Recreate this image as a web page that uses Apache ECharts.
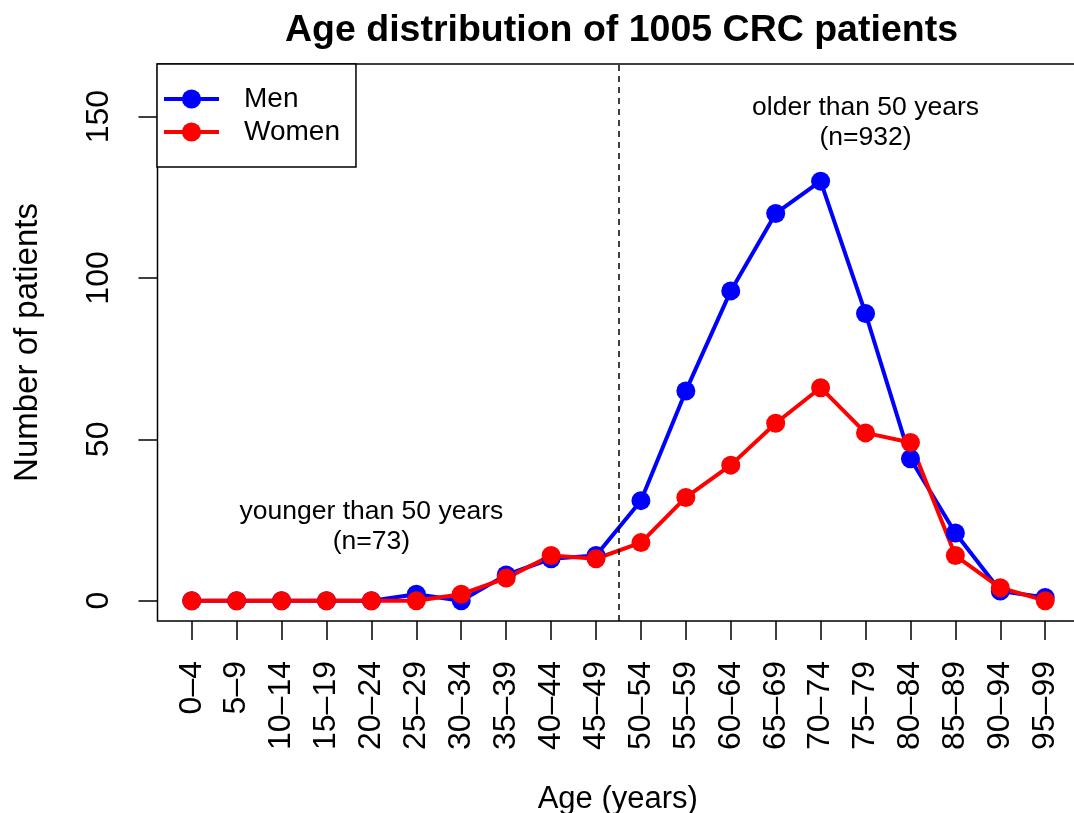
<!DOCTYPE html>
<html>
<head>
<meta charset="utf-8">
<script src="https://cdn.jsdelivr.net/npm/echarts@6/dist/echarts.min.js"></script>
<style>
  html, body { margin: 0; padding: 0; background: #fff; }
  #chart { width: 1074px; height: 813px; }
</style>
</head>
<body>
<div id="chart"></div>
<script>
var ageGroups = ['0–4', '5–9', '10–14', '15–19', '20–24', '25–29', '30–34', '35–39', '40–44', '45–49',
  '50–54', '55–59', '60–64', '65–69', '70–74', '75–79', '80–84', '85–89', '90–94', '95–99']
var men = [0, 0, 0, 0, 0, 2, 0, 8, 13, 14, 31, 65, 96, 120, 130, 89, 44, 21, 3, 1]
var women = [0, 0, 0, 0, 0, 0, 2, 7, 14, 13, 18, 32, 42, 55, 66, 52, 49, 14, 4, 0]
var yTicks = [0, 50, 100, 150]
// split between the two age groups (between 45-49 and 50-54)
var cutAt = 9.5
var notes = [
  { x: 4, y: 23, text: 'younger than 50 years\n(n=73)' },
  { x: 15, y: 148, text: 'older than 50 years\n(n=932)' }
]

var font = 'Liberation Sans, Arial, Helvetica, sans-serif'
var tickIdx = ageGroups.map(function (g, i) { return i })

var chart = echarts.init(document.getElementById('chart'))
chart.setOption({
  backgroundColor: '#fff',
  animation: false,
  title: {
    text: 'Age distribution of 1005 CRC patients',
    left: 280,
    top: 7,
    textStyle: { fontFamily: font, fontSize: 37.5, fontWeight: 'bold', color: '#000' }
  },
  legend: {
    orient: 'vertical',
    left: 157,
    top: 64,
    padding: [21, 16, 21, 5],
    itemGap: 5,
    itemWidth: 55,
    itemHeight: 24,
    borderColor: '#000',
    borderWidth: 1.5,
    borderRadius: 0,
    backgroundColor: '#fff',
    lineStyle: { width: 4 },
    data: ['Men', 'Women'],
    textStyle: { fontFamily: font, fontSize: 28, lineHeight: 28, color: '#000', padding: [0, 0, 0, 20] }
  },
  grid: {
    left: 157.5,
    right: -4,
    top: 64,
    bottom: 192,
    outerBoundsMode: 'none',
    containLabel: false,
    show: true,
    borderColor: '#000',
    borderWidth: 1.5,
    backgroundColor: 'transparent'
  },
  xAxis: {
    type: 'value',
    min: -0.762,
    max: 19.73,
    name: 'Age (years)',
    nameLocation: 'middle',
    nameGap: 178,
    nameTextStyle: { fontFamily: font, fontSize: 31, color: '#000', verticalAlign: 'middle' },
    axisLine: { show: false, onZero: false },
    splitLine: { show: false },
    axisTick: { show: true, inside: false, length: 19, customValues: tickIdx, lineStyle: { color: '#000', width: 1.5 } },
    axisLabel: {
      customValues: tickIdx,
      rotate: 90,
      margin: 40,
      fontFamily: font,
      fontSize: 32,
      color: '#000',
      formatter: function (v) { return ageGroups[Math.round(v)] }
    }
  },
  yAxis: {
    type: 'value',
    min: -6.29,
    max: 166.3,
    name: 'Number of patients',
    nameLocation: 'middle',
    nameGap: 130,
    nameTextStyle: { fontFamily: font, fontSize: 33, color: '#000', verticalAlign: 'middle' },
    axisLine: { show: false, onZero: false },
    splitLine: { show: false },
    axisTick: { show: true, inside: false, length: 19, customValues: yTicks, lineStyle: { color: '#000', width: 1.5 } },
    axisLabel: {
      customValues: yTicks,
      rotate: 90,
      margin: 42,
      fontFamily: font,
      fontSize: 32,
      color: '#000'
    }
  },
  series: [
    {
      name: 'Men',
      type: 'line',
      symbol: 'circle',
      symbolSize: 19,
      itemStyle: { color: '#0000ff' },
      lineStyle: { color: '#0000ff', width: 4 },
      data: men.map(function (v, i) { return [i, v] }),
      markLine: {
        silent: true,
        symbol: 'none',
        label: { show: false },
        lineStyle: { color: '#000', width: 1.5, type: [6, 5] },
        data: [{ xAxis: cutAt }]
      },
      markPoint: {
        silent: true,
        symbol: 'circle',
        symbolSize: 0,
        label: {
          show: true,
          position: 'inside',
          fontFamily: font,
          fontSize: 26.5,
          lineHeight: 30,
          color: '#000',
          formatter: function (p) { return p.name }
        },
        data: notes.map(function (n) { return { name: n.text, coord: [n.x, n.y] } })
      }
    },
    {
      name: 'Women',
      type: 'line',
      symbol: 'circle',
      symbolSize: 19,
      itemStyle: { color: '#ff0000' },
      lineStyle: { color: '#ff0000', width: 4 },
      data: women.map(function (v, i) { return [i, v] })
    }
  ]
})
</script>
</body>
</html>
